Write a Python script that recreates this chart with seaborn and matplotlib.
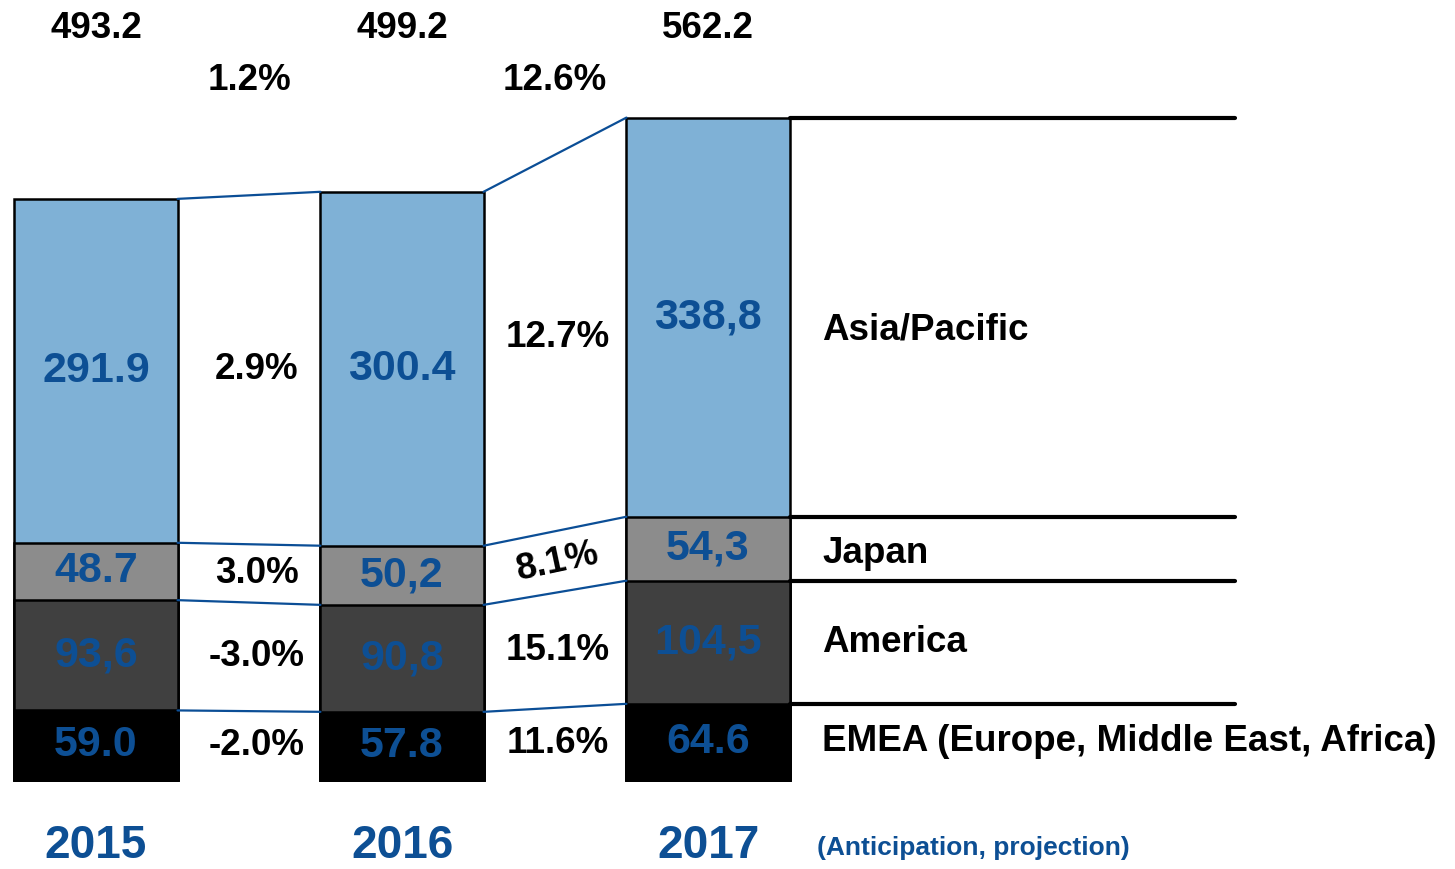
import numpy as np
import pandas as pd
import matplotlib
matplotlib.use("Agg")
import matplotlib.pyplot as plt
import seaborn as sns

years = ["2015", "2016", "2017"]
regions = ["EMEA (Europe, Middle East, Africa)", "America", "Japan", "Asia/Pacific"]
emea = [59.0, 57.8, 64.6]
america = [93.6, 90.8, 104.5]
japan = [48.7, 50.2, 54.3]
asia = [291.9, 300.4, 338.8]
totals = ["493.2", "499.2", "562.2"]
total_growth = ["1.2%", "12.6%"]

# labels as printed in the source (mixed decimal separators)
emea_lbl = ["59.0", "57.8", "64.6"]
america_lbl = ["93,6", "90,8", "104,5"]
japan_lbl = ["48.7", "50,2", "54,3"]
asia_lbl = ["291.9", "300.4", "338,8"]

emea_growth = ["-2.0%", "11.6%"]
america_growth = ["-3.0%", "15.1%"]
japan_growth = ["3.0%", "8.1%"]
asia_growth = ["2.9%", "12.7%"]

seg_colors = ["#000000", "#404040", "#8c8c8c", "#7fb1d6"]
blue = "#0d4f94"
line_blue = "#0b4e96"

sns.set_theme(style="white")
plt.rcParams["font.family"] = ["Liberation Sans", "DejaVu Sans"]
plt.rcParams["font.weight"] = "bold"

fig = plt.figure(figsize=(14.55, 8.69), dpi=100)
ax = fig.add_axes([0, 0, 1, 1])

segs = np.array([emea, america, japan, asia])
cum = np.cumsum(segs, axis=0)
width = 0.533

# draw from the tallest stack down so each segment keeps its own fill
for i in range(3, -1, -1):
    df = pd.DataFrame({"year": years, "value": cum[i]})
    sns.barplot(data=df, x="year", y="value", order=years, color=seg_colors[i],
                saturation=1, width=width, edgecolor="black", linewidth=1.8,
                errorbar=None, ax=ax)

ax.set_xlim(-0.3137, 4.441)
ax.set_ylim(-75.6, 662)
ax.axis("off")

half = width / 2
# connector lines between bars
for i in range(4):
    for j in range(2):
        ax.plot([j + half, j + 1 - half], [cum[i][j], cum[i][j + 1]],
                color=line_blue, lw=1.6, zorder=5)
    # black guide lines right of the last bar
    ax.plot([2 + half, 3.722], [cum[i][2], cum[i][2]], color="black", lw=3, zorder=5)

# values inside segments
labels = [emea_lbl, america_lbl, japan_lbl, asia_lbl]
growths = [emea_growth, america_growth, japan_growth, asia_growth]
region_dy = [0, 0, -4, -11]
for i in range(4):
    bottom = cum[i] - segs[i]
    mids = (bottom + cum[i]) / 2
    for j in range(3):
        ax.text(j, mids[j], labels[i][j], ha="center", va="center",
                fontsize=31, fontweight="bold", color=blue, zorder=6)
    for j in range(2):
        rot = 12 if (i == 2 and j == 1) else 0
        gx = j + 0.5 + (0.025 if j == 0 else 0.01)
        gy = (mids[j] + mids[j + 1]) / 2 + (5 if (i == 3 and j == 1) else 0)
        ax.text(gx, gy, growths[i][j], ha="center", va="center", fontsize=26.5,
                fontweight="bold", color="black", rotation=rot, zorder=6)
    ax.text(2.373, mids[2] + region_dy[i], regions[i], ha="left", va="center",
            fontsize=26.5, fontweight="bold", color="black")

for j in range(3):
    ax.text(j, 638, totals[j], ha="center", va="center", fontsize=26.5,
            fontweight="bold", color="black")
    ax.text(j, -56, years[j], ha="center", va="center", fontsize=33,
            fontweight="bold", color=blue)
for j in range(2):
    ax.text(j + 0.5, 594, total_growth[j], ha="center", va="center", fontsize=26.5,
            fontweight="bold", color="black")

ax.text(2.356, -57.7, "(Anticipation, projection)", ha="left", va="center",
        fontsize=19, fontweight="bold", color=blue)

fig.savefig("out.png", dpi=100, facecolor="white")
